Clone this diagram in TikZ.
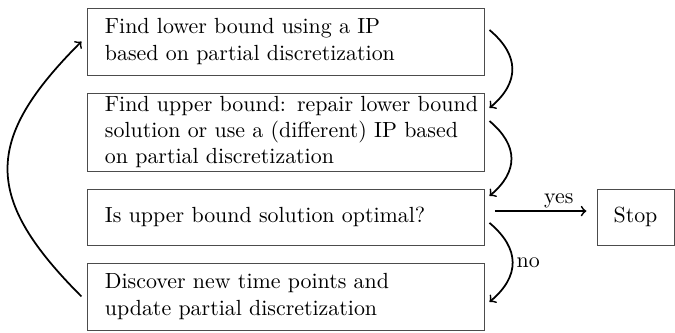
\documentclass[tikz,border=0pt]{standalone}
\usepackage{amsmath}
\usepackage{amssymb}
\usepackage{xcolor}

\begin{document}
\begin{tikzpicture}[x=0.4566pt,y=0.4566pt,
        box/.style={draw=black!70,rectangle,align=left,text width=177.3pt,inner xsep=2pt,inner ysep=1pt,outer sep=2.5pt,execute at begin node={\leftskip=6.2pt}},
        stopbox/.style={draw=black!70,rectangle,minimum width=35.2pt,minimum height=25.6pt,inner sep=1pt,outer sep=2.5pt},
        flow/.style={->,thick},
        sidebend/.style={out=-40,in=40,looseness=1.3}]
                \useasboundingbox (0,0) rectangle (675,-333);

                \node (lower) at (285.5,-41.5) [box,minimum height=30.6pt] {Find lower bound using a IP\\based on partial discretization};
                \node (upper) at (285.5,-132) [box,minimum height=35.6pt] {Find upper bound: repair lower bound\\solution or use a (different) IP based\\on partial discretization};
                \node (check) at (285.5,-217) [box,minimum height=25.6pt] {Is upper bound solution optimal?};
                \node (disc) at (285.5,-296.5) [box,minimum height=30.6pt] {Discover new time points and\\update partial discretization};
                \node (stop) at (635.5,-217) [stopbox] {Stop};

                \draw[flow] ([yshift=5.25pt]lower.east) to[sidebend] ([yshift=10.96pt]upper.east);
                \draw[flow] ([yshift=5pt]upper.east) to[sidebend] ([yshift=9.6pt]check.east);
                \draw[flow,shorten <=2.5pt,shorten >=2.3pt] ([yshift=2.7pt]check.east) -- node[above,pos=0.68,inner sep=1pt] {yes} ([yshift=2.7pt]stop.west);
                \draw[flow] ([yshift=-2.7pt]check.east) to[sidebend] node[right,inner sep=1.5pt] {no} ([yshift=-2.5pt]disc.east);
                \draw[flow] (disc.west) to[out=135,in=-135,looseness=1.4] (lower.west);

            \end{tikzpicture}
\end{document}
